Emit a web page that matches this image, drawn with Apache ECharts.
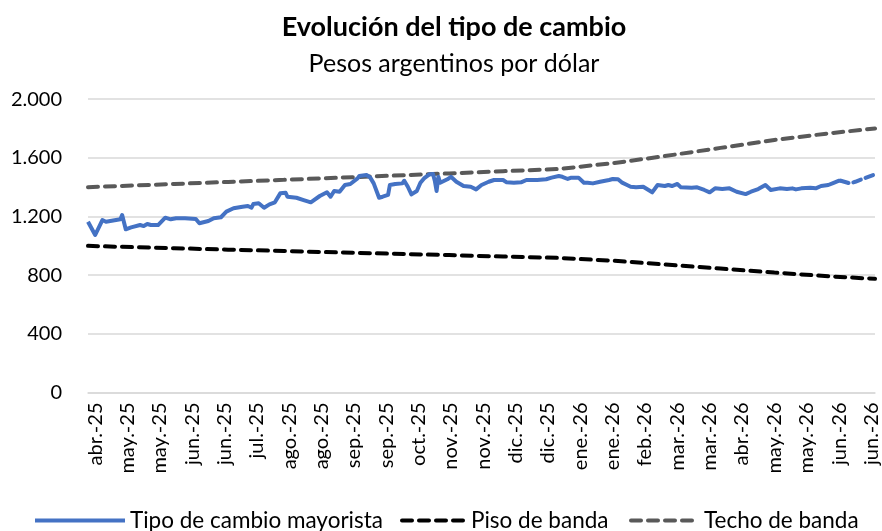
<!DOCTYPE html>
<html><head><meta charset="utf-8">
<script src="https://cdn.jsdelivr.net/npm/echarts@6/dist/echarts.min.js"></script>
<style>html,body{margin:0;padding:0;background:#fff}#c{width:882px;height:531px}</style>
</head><body><div id="c"></div>
<script>
// ---- data ----
const startDate = '2025-04-14';
const endDate = '2026-06-26';
const firstTickDate = '2025-04-18';
const tickStepDays = 18;
const tickLabels = ['abr.-25','may.-25','may.-25','jun.-25','jun.-25','jul.-25','ago.-25','ago.-25','sep.-25','sep.-25','oct.-25','nov.-25','nov.-25','dic.-25','dic.-25','ene.-26','ene.-26','feb.-26','mar.-26','mar.-26','abr.-26','may.-26','may.-26','jun.-26','jun.-26'];

const rateDates = ['2025-04-14','2025-04-18','2025-04-22','2025-04-24','2025-05-02','2025-05-03','2025-05-05','2025-05-08','2025-05-13','2025-05-15','2025-05-17','2025-05-19','2025-05-23','2025-05-27','2025-05-30','2025-06-02','2025-06-07','2025-06-13','2025-06-15','2025-06-20','2025-06-23','2025-06-27','2025-06-30','2025-07-04','2025-07-09','2025-07-12','2025-07-14','2025-07-15','2025-07-18','2025-07-21','2025-07-24','2025-07-27','2025-07-30','2025-08-02','2025-08-03','2025-08-08','2025-08-12','2025-08-16','2025-08-21','2025-08-25','2025-08-27','2025-08-29','2025-09-01','2025-09-04','2025-09-07','2025-09-11','2025-09-12','2025-09-16','2025-09-18','2025-09-20','2025-09-23','2025-09-25','2025-09-28','2025-09-29','2025-10-02','2025-10-06','2025-10-07','2025-10-09','2025-10-11','2025-10-14','2025-10-16','2025-10-18','2025-10-21','2025-10-23','2025-10-24','2025-10-25','2025-10-26','2025-10-27','2025-10-31','2025-11-02','2025-11-05','2025-11-09','2025-11-13','2025-11-16','2025-11-19','2025-11-23','2025-11-26','2025-12-01','2025-12-03','2025-12-07','2025-12-11','2025-12-14','2025-12-20','2025-12-25','2025-12-28','2026-01-01','2026-01-03','2026-01-06','2026-01-08','2026-01-12','2026-01-15','2026-01-17','2026-01-20','2026-01-24','2026-01-29','2026-01-31','2026-02-03','2026-02-05','2026-02-08','2026-02-10','2026-02-13','2026-02-17','2026-02-22','2026-02-25','2026-03-01','2026-03-03','2026-03-05','2026-03-08','2026-03-10','2026-03-16','2026-03-19','2026-03-23','2026-03-26','2026-03-29','2026-04-02','2026-04-06','2026-04-10','2026-04-15','2026-04-18','2026-04-22','2026-04-26','2026-04-29','2026-05-04','2026-05-08','2026-05-11','2026-05-13','2026-05-16','2026-05-21','2026-05-24','2026-05-27','2026-05-31','2026-06-03','2026-06-06','2026-06-07'];
const rateValues = [1164,1074,1176,1164,1181,1210,1113,1126,1142,1135,1149,1142,1142,1192,1181,1188,1188,1183,1154,1169,1188,1195,1233,1256,1267,1272,1260,1285,1290,1260,1283,1297,1358,1362,1335,1328,1312,1297,1340,1365,1335,1374,1369,1415,1422,1460,1476,1483,1467,1426,1328,1335,1347,1415,1422,1426,1444,1403,1351,1374,1430,1460,1488,1490,1444,1374,1471,1430,1454,1471,1437,1408,1403,1385,1415,1437,1449,1449,1433,1430,1433,1449,1449,1454,1465,1476,1471,1456,1465,1465,1430,1430,1426,1437,1449,1456,1454,1433,1415,1403,1399,1403,1365,1415,1408,1415,1408,1422,1399,1396,1399,1381,1365,1392,1387,1392,1369,1353,1369,1387,1415,1381,1392,1387,1392,1385,1392,1396,1392,1408,1415,1430,1444,1444];
const rateTailDates = ['2026-06-07','2026-06-12','2026-06-15','2026-06-25'];
const rateTailValues = [1444,1426,1437,1483];

const bandDates = ['2025-04-14','2025-05-01','2025-06-01','2025-07-01','2025-08-01','2025-09-01','2025-10-01','2025-11-01','2025-12-01','2026-01-01','2026-02-01','2026-03-01','2026-04-01','2026-05-01','2026-06-01','2026-06-26'];
const floorValues = [1000,994,984,974,965,955,946,937,927,918,898,873,845,818,792,775];
const ceilingValues = [1400,1408,1422,1436,1450,1465,1479,1494,1509,1524,1565,1612,1668,1722,1768,1800];

const yTicks = { min: 0, max: 2000, interval: 400 };

// ---- build ----
const DAY = 86400000;
const toUTC = s => { const p = s.split('-').map(Number); return Date.UTC(p[0], p[1]-1, p[2]); };
const categories = [];
for (let t = toUTC(startDate); t <= toUTC(endDate); t += DAY) categories.push(new Date(t).toISOString().slice(0,10));
const idx = {}; categories.forEach((d,i)=> idx[d]=i);
function sparse(dates, vals){ const a = new Array(categories.length).fill(null); dates.forEach((d,i)=>{ a[idx[d]] = vals[i]; }); return a; }
const firstTickIdx = idx[firstTickDate];
const isTick = i => i >= firstTickIdx && (i - firstTickIdx) % tickStepDays === 0 && (i - firstTickIdx)/tickStepDays < tickLabels.length;

const FONT = 'Lato';
const legendText = { fontFamily: FONT, fontSize: 22.5, color: '#000' };
const legendLine = { width: 4 };
const chart = echarts.init(document.getElementById('c'), null, {renderer:'canvas'});
chart.setOption({
  animation: false,
  backgroundColor: '#fff',
  textStyle: { fontFamily: FONT },
  title: [
    { text: 'Evolución del tipo de cambio', left: 449, textAlign: 'center', top: 9,
      textStyle: { fontFamily: FONT, fontWeight: 'bold', fontSize: 27, color: '#000' } },
    { text: 'Pesos argentinos por dólar', left: 449, textAlign: 'center', top: 46,
      textStyle: { fontFamily: FONT, fontWeight: 'normal', fontSize: 25, color: '#000' } }
  ],
  grid: { left: 88, right: 7, top: 99.2, bottom: 531 - 392.5, containLabel: false },
  xAxis: {
    type: 'category', data: categories, boundaryGap: false,
    axisLine: { lineStyle: { color: '#d9d9d9', width: 1.5 } },
    axisTick: { show: false },
    axisLabel: {
      rotate: 90, margin: 10, fontSize: 20, color: '#000', fontFamily: FONT,
      interval: (i) => isTick(i),
      formatter: (v, i) => isTick(i) ? tickLabels[(i - firstTickIdx)/tickStepDays] : ''
    },
    splitLine: { show: false }
  },
  yAxis: {
    type: 'value', min: yTicks.min, max: yTicks.max, interval: yTicks.interval,
    axisLine: { show: false }, axisTick: { show: false },
    axisLabel: { margin: 26, fontSize: 20, color: '#000', fontFamily: FONT,
      formatter: v => v.toString().replace(/\B(?=(\d{3})+(?!\d))/g, '.') },
    splitLine: { lineStyle: { color: '#d9d9d9', width: 1.5 } }
  },
  legend: [
    { data: ['Tipo de cambio mayorista'], left: 28, top: 504, itemWidth: 90, itemHeight: 14,
      itemStyle: { opacity: 0 }, lineStyle: legendLine, textStyle: legendText },
    { data: ['Piso de banda'], left: 395, top: 504, itemWidth: 64, itemHeight: 14,
      itemStyle: { opacity: 0 }, lineStyle: legendLine, textStyle: legendText },
    { data: ['Techo de banda'], left: 624, top: 504, itemWidth: 68, itemHeight: 14,
      itemStyle: { opacity: 0 }, lineStyle: legendLine, textStyle: legendText }
  ],
  series: [
    { name: 'Piso de banda', type: 'line', data: sparse(bandDates, floorValues), connectNulls: true,
      symbol: 'none', color: '#000',
      lineStyle: { color: '#000', width: 4, type: [10, 7], cap: 'round' }, z: 2 },
    { name: 'Techo de banda', type: 'line', data: sparse(bandDates, ceilingValues), connectNulls: true,
      symbol: 'none', color: '#595959',
      lineStyle: { color: '#595959', width: 4, type: [10, 7], cap: 'round' }, z: 2 },
    { name: 'Tipo de cambio mayorista', type: 'line', data: sparse(rateDates, rateValues), connectNulls: true,
      symbol: 'none', color: '#4472C4',
      lineStyle: { color: '#4472C4', width: 4, join: 'round' }, z: 3 },
    { name: 'Tipo de cambio mayorista', type: 'line', data: sparse(rateTailDates, rateTailValues), connectNulls: true,
      symbol: 'none', color: '#4472C4',
      lineStyle: { color: '#4472C4', width: 4, type: [8, 5], cap: 'round' }, z: 3 }
  ]
});
</script></body></html>
